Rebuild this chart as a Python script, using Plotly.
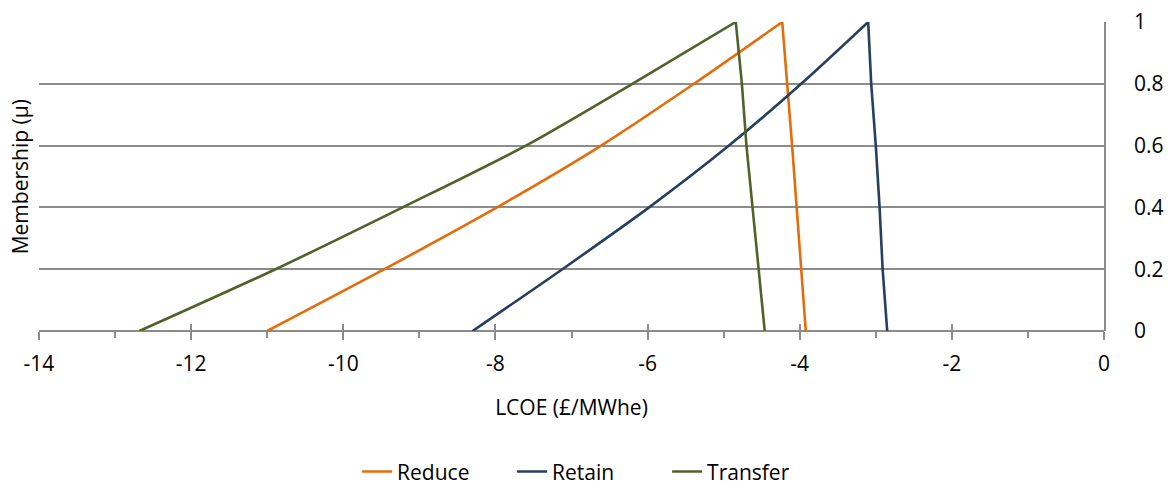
import plotly.graph_objects as go

# Membership levels on the rising and falling sides of each fuzzy number
mu_rise = [0, 0.2, 0.4, 0.6, 0.8, 1.0]
mu_fall = [1.0, 0.8, 0.6, 0.4, 0.2, 0]

reduce_rise = [-11.0, -9.46, -7.98, -6.61, -5.39, -4.23]
reduce_fall = [-4.23, -4.16, -4.10, -4.04, -3.98, -3.92]
retain_rise = [-8.30, -7.12, -5.98, -4.93, -3.98, -3.10]
retain_fall = [-3.10, -3.06, -3.00, -2.95, -2.91, -2.85]
transfer_rise = [-12.68, -10.89, -9.22, -7.60, -6.20, -4.84]
transfer_fall = [-4.84, -4.76, -4.70, -4.62, -4.54, -4.46]

x_ticks = [-14, -12, -10, -8, -6, -4, -2, 0]
x_tick_text = ["-14", "-12", "-10", "-8", "-6", "-4", "-2", "0"]
y_ticks = [0, 0.2, 0.4, 0.6, 0.8, 1]
y_tick_text = ["0", "0.2", "0.4", "0.6", "0.8", "1"]

FONT = "Open Sans"
FS = 21
GRID = "#8c8c8c"

fig = go.Figure()
for name, rise, fall, color in [
    ("Reduce", reduce_rise, reduce_fall, "#E46C0A"),
    ("Retain", retain_rise, retain_fall, "#243F60"),
    ("Transfer", transfer_rise, transfer_fall, "#4F6228"),
]:
    fig.add_trace(go.Scatter(x=rise, y=mu_rise, mode="lines", name=name, legendgroup=name,
                             line=dict(color=color, width=2.6, shape="spline", smoothing=0.8)))
    fig.add_trace(go.Scatter(x=fall, y=mu_fall, mode="lines", name=name, legendgroup=name,
                             showlegend=False, line=dict(color=color, width=2.6)))

fig.update_layout(
    width=1172, height=488,
    margin=dict(l=39, r=68, t=22, b=157, autoexpand=False),
    paper_bgcolor="white", plot_bgcolor="white",
    font=dict(family=FONT, size=FS, color="black"),
    showlegend=True,
    legend=dict(orientation="h", x=0.517, xanchor="center",
                yref="container", y=0.033, yanchor="middle",
                font=dict(size=FS), entrywidth=110, entrywidthmode="pixels"),
    xaxis=dict(
        range=[-14, 0], tickvals=x_ticks, ticktext=x_tick_text, automargin=False,
        showgrid=False, zeroline=False,
        showline=False, ticks="outside", ticklen=8, tickwidth=1.5, tickcolor=GRID,
        ticklabelstandoff=6,
        minor=dict(tickvals=[-13, -11, -9, -7, -5, -3, -1], ticks="outside",
                   ticklen=6, tickwidth=1.5, tickcolor=GRID),
        title=dict(text="LCOE (£/MWhe)", standoff=24, font=dict(size=FS)),
        tickfont=dict(size=FS),
    ),
    xaxis2=dict(
        range=[-14, 0], overlaying="x", tickvals=x_ticks, showticklabels=False,
        showgrid=False, zeroline=False, showline=False, automargin=False,
        ticks="inside", ticklen=7, tickwidth=1.5, tickcolor=GRID, side="bottom",
    ),
    yaxis=dict(
        range=[0, 1], side="right", tickvals=y_ticks, ticktext=y_tick_text,
        automargin=False,
        showgrid=True, gridcolor=GRID, gridwidth=1.5,
        zeroline=True, zerolinecolor=GRID, zerolinewidth=1.5,
        showline=True, linecolor=GRID, linewidth=1.5,
        ticks="", ticklabelstandoff=24, tickfont=dict(size=FS),
    ),
    annotations=[dict(
        text="Membership (μ)", textangle=-90, showarrow=False,
        xref="paper", yref="paper", x=-0.018, y=0.5, xanchor="center", yanchor="middle",
        font=dict(family=FONT, size=FS),
    )],
)

# Empty trace tied to the overlay axis so its inward ticks are drawn
fig.add_trace(go.Scatter(x=[None], y=[None], xaxis="x2", showlegend=False, hoverinfo="skip"))

fig.write_html("out.html")
